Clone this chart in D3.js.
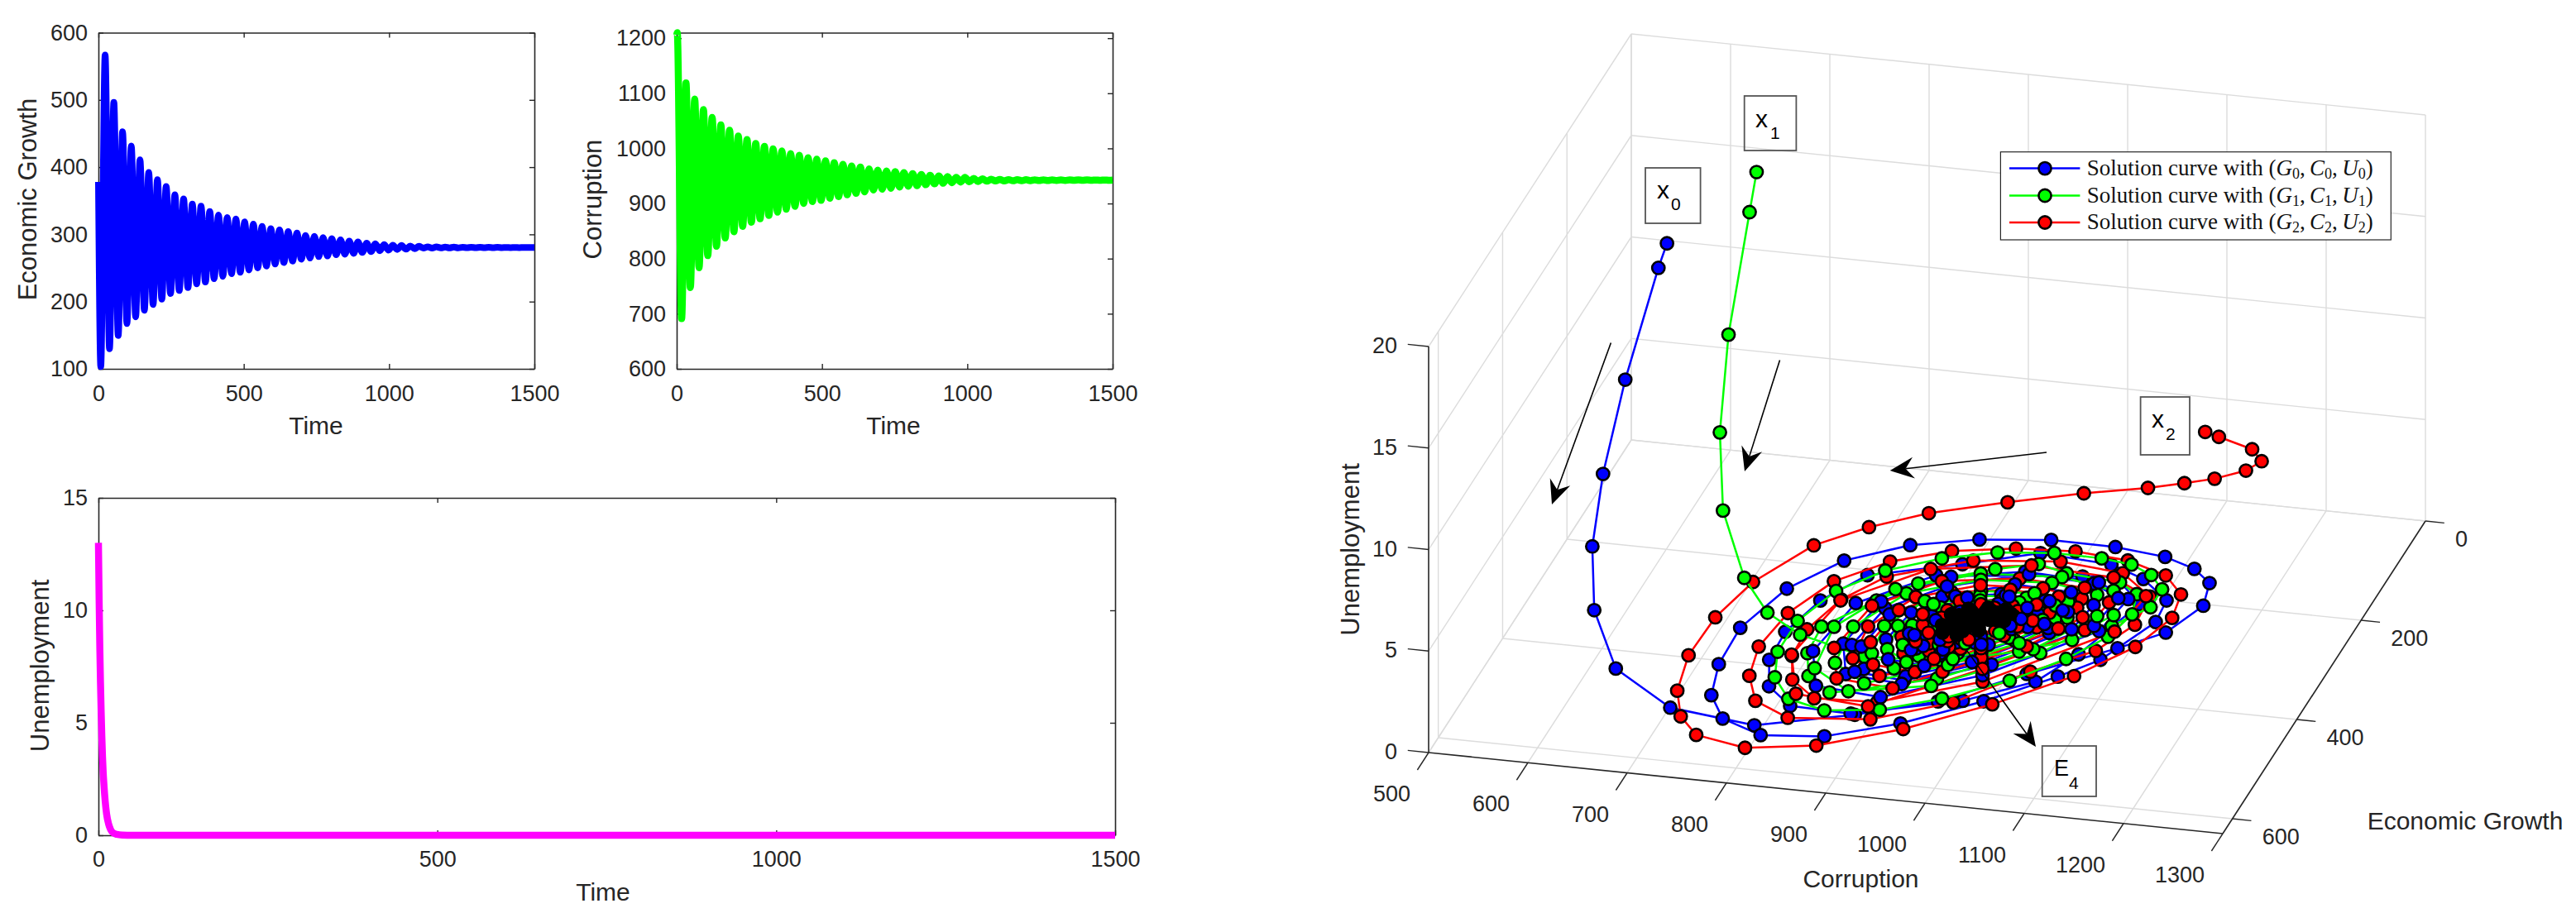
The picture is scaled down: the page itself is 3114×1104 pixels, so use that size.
<!DOCTYPE html>
<html><head><meta charset="utf-8">
<script src="https://cdn.jsdelivr.net/npm/d3@7"></script>
<style>
html,body{margin:0;padding:0;background:#fff}
svg{display:block}
text{font-family:"Liberation Sans",Arial,sans-serif;fill:#262626}
</style></head><body>
<svg id="c" width="3114" height="1104"></svg>
<script>
// ---------- time series ----------
const growthPeakT=[23,53,83,113,143,173,203,233,263,293,323,353,383,413,443,473,503,533,563,593,623,653,683,713,743,773,803,833,863,893,923,953,983,1013,1043,1073,1103,1133,1163,1193,1223,1253,1283,1313,1343,1373,1403,1433,1463,1493];
const growthPeakV=[566.8,496.5,452.6,431.5,410.9,392,381.4,371.3,359,352.9,345,341.9,334,328.7,325.2,323,318.6,315.1,312,308.5,306.7,304.1,301.9,298.4,297.1,295.3,293.6,291.8,290,288.7,287,286.1,284.8,283.9,283.5,282.6,282.2,281.3,281.3,281,281,280.9,280.8,280.8,280.7,280.7,280.6,280.6,280.6,280.5];
const growthTroughT=[8,38,68,98,128,158,188,218,248,278,308,338,368,398,428,458,488,518,548,578,608,638,668,698,728,758,788,818,848,878,908,938,968,998,1028,1058,1088,1118,1148,1178,1208,1238,1268,1298,1328,1358,1388,1418,1448,1478];
const growthTroughV=[103.5,129.9,149.6,167.2,177.3,187,195.7,203.6,212,216.4,220.8,226.5,229.1,234,237.5,241.4,243.6,247.1,250.2,252.9,255.9,258.1,260.3,263,264.7,266.9,267.8,269.6,270.4,271.7,273,274.4,275.7,276.6,277.5,277.9,278.8,279.7,279.7,279.9,280,280,280.1,280.1,280.2,280.2,280.3,280.3,280.3,280.4];
const growthStart=[0,378], growthEnd=[1500,280.5];

const corruptPeakT=[2,32,62,92,122,152,182,212,242,272,302,332,362,392,422,452,482,512,542,572,602,632,662,692,722,752,782,812,842,872,902,932,962,992,1022,1052,1082,1112,1142,1172,1202,1232,1262,1292,1322,1352,1382,1412,1442,1472];
const corruptPeakV=[1210,1118.9,1089.4,1070.6,1056.2,1042.7,1033.1,1022.4,1015.9,1009,1003.6,999.3,995.6,990.7,987.5,983.2,980.5,977.3,974.1,970.9,968.2,966,962.8,960.7,959.1,958,955.9,954.3,952.7,951,950,948.9,947.3,947.3,945.7,944.6,944.1,943.5,943.3,943.2,943.1,943,943,942.9,942.9,942.8,942.8,942.8,942.7,942.7];
const corruptTroughT=[17,47,77,107,137,167,197,227,257,287,317,347,377,407,437,467,497,527,557,587,617,647,677,707,737,767,797,827,857,887,917,947,977,1007,1037,1067,1097,1127,1157,1187,1217,1247,1277,1307,1337,1367,1397,1427,1457,1487];
const corruptTroughV=[691.1,747.4,783.4,805.4,822.5,837.5,848.8,858.5,866,872.4,878.3,884.2,889.6,894.9,900.3,903.5,905.6,909.4,912.6,915.8,918.5,921.2,924.4,926,927.6,929.8,931.4,932.5,934.1,935.7,936.8,937.8,938.9,939.4,940,940.5,941,941.1,941.3,941.4,941.5,941.6,941.7,941.8,941.9,942,942,942.1,942.1,942.2];
const corruptStart=[0,1206], corruptEnd=[1500,942.5];

const unempT=[0,1,2,3,4,5,6,7,8,10,12,15,18,22,27,35,50,1500];
const unempV=[13,10.5,8.4,6.8,5.5,4.4,3.5,2.8,2.3,1.5,0.95,0.5,0.25,0.1,0.04,0.01,0,0];

// ---------- phase-space trajectories ----------
const blueC=[662,654,619,606,603,614,649,712,796,882,950,1017,1087,1123,1142,1134,1111,1076,1023,958,890,828,775,738,718,720,732,757,803,864,928,993,1048,1078,1107,1104,1069,1030,956,889,806,777,763,765,781,813,875,973,1030,1054,1081,1041,1010,
871,812,801,825,893,976,1059,1067,1029,953,
886,835,825,846,905,978,1051,1057,1025,958,
888,843,834,853,905,968,1032,1038,1009,951,
890,851,844,860,904,958,1013,1018,994,944,
902,870,863,877,915,961,1009,1012,992,949,
914,887,881,893,925,963,1003,1006,989,953,
915,892,887,897,923,956,989,991,977,947,
916,898,895,902,923,949,975,978,966,942,
925,910,907,914,931,951,972,974,965,946];
const blueG=[389,391,386,415,439,467,508,533,531,484,435,366,300,261,203,159,135,118,109,108,121,145,187,251,334,407,467,509,533,523,484,426,365,325,243,200,164,143,135,171,210,267,333,389,439,472,475,429,379,319,212,165,171,
197,265,364,429,438,377,271,205,179,173,
197,257,344,401,409,355,262,205,182,177,
216,269,345,395,402,355,273,223,203,199,
236,280,346,388,394,354,284,241,224,220,
233,272,328,365,370,335,275,239,224,221,
233,265,312,343,347,318,268,238,225,223,
248,275,314,339,343,319,277,251,241,239,
261,282,313,333,336,317,284,263,255,253,
260,277,302,318,320,305,278,262,256,254];
const blueU=[20,18.8,13,9,6,3.6,1.9,0.9,0.4,0.2];

const greenC=[703,706,689,691,704.5,736,758,790,858,931,996,1039,1068,1093,1093,1074,1049,1017,969,915,866,820,786,768,768,781,807,848,900,952,1005,1045,1071,1080,1072,1049,993,961,923,859,830,794,797,812,842,
934,1017,1063,1048,991,912,841,806,813,859,
935,1008,1048,1035,985,916,854,824,829,869,
937,991,1021,1012,975,923,876,853,858,888,
938,985,1010,1002,970,925,886,866,870,896,
939,978,999,992,966,928,895,879,882,904,
940,966,980,976,958,933,911,900,902,916];
const greenG=[237,268,281,314,346,377,373,370,380,365,325,293,259,216,180,155,139,133,132,142,164,198,246,310,372,421,459,474,462,429,382,330,280,233,194,175,168,156,174,216,256,316,369,412,439,
407,324,238,192,176,185,231,314,396,433,
392,318,243,203,189,197,237,310,382,415,
364,309,252,222,212,218,248,303,357,381,
352,305,257,231,222,227,252,300,346,367,
340,301,261,239,232,236,257,296,335,353,
320,294,267,253,248,251,265,291,317,328];
const greenU=[20,18.8,13,9,6,3.6,1.9,0.9,0.4,0.2];

const redC=[1199,1205,1198,1182,1148,1103.5,1064,1025,964,895,826,778,737,702,688,686,697,716,742,796,862,934,1003,1063,1103,1120,1114,1088,1043,988,930,871,819,778,754,747,756,777,818,897,965,1019,1068,1089,1086,1046,980,897,825,796,782,784,799,831,893,
980,1074,1082,1040,955,862,796,783,811,887,
972,1045,1051,1019,952,880,829,819,840,899,
936,1000,1035,1023,980,919,865,838,843,879,
964,1019,1024,1000,950,896,857,850,866,910,
958,998,1001,984,948,909,882,876,888,920,
939,972,990,984,962,931,903,889,892,910,
953,979,982,970,946,920,902,899,906,927,
941,961,973,969,955,935,917,908,910,922,
949,966,967,960,945,929,917,915,920,933];
const redG=[373,349,224,145,89,49,21,14,25,49,81,119,164,245,319,396,465,513,545,560,542,494,430,361,294,232,186,153,132,125,131,148,180,228,297,366,423,469,495,482,434,361,309,252,196,157,147,162,209,261,324,377,422,453,448,
389,269,196,167,160,186,263,375,448,458,
365,272,215,192,187,207,267,354,411,419,
378,314,248,213,201,207,242,307,370,398,
344,274,231,214,210,226,270,336,378,384,
326,276,246,233,231,241,273,320,351,355,
331,298,264,246,240,243,261,294,326,341,
311,278,257,249,247,255,276,307,327,330,
312,291,270,259,255,257,268,289,310,319,
300,279,266,261,260,264,278,297,310,312];
const redU=[13,12.2,8.5,5.9,3.9,2.3,1.2,0.6,0.3,0.1];

// overlapping marker edges turn the centre of the spiral solid black
const coreC=[965,957,940,922,909,907,912,927,945,963,957,952,940,927,918,916,920,930,943,956,949,946,939,931,926,925,927,933,941,949,938];
const coreG=[255,250,248,254,268,290,304,306,293,270,260,256,255,259,269,285,295,297,287,270,265,262,262,264,270,280,286,287,281,271,272];

const timeTicks=[0,500,1000,1500];
const growthTicks=[100,200,300,400,500,600];
const corruptTicks=[600,700,800,900,1000,1100,1200];
const unempTicks=[0,5,10,15];
const cTicks3=[500,600,700,800,900,1000,1100,1200,1300];
const gTicks3=[0,200,400,600];
const uTicks3=[0,5,10,15,20];
const legendRows=[{s:"0",col:"#0000ff"},{s:"1",col:"#00ff00"},{s:"2",col:"#ff0000"}];

// ---------- helpers ----------
const svg=d3.select("#c");
const INK="#262626";
const fmt=d3.format("d");
const merge=(pt,pv,tt,tv,s,e)=>[s,...pt.map((t,i)=>[t,pv[i]]),...tt.map((t,i)=>[t,tv[i]]),e].sort((a,b)=>a[0]-b[0]);

function panel(o){
  const x=d3.scaleLinear().domain([0,1500]).range([o.l,o.r]);
  const y=d3.scaleLinear().domain(o.dom).range([o.b,o.t]);
  const g=svg.append("g");
  const style=s=>{s.selectAll("path.domain").attr("stroke",INK).attr("stroke-width",1.6);
    s.selectAll(".tick line").attr("stroke",INK).attr("stroke-width",1.4);
    s.selectAll("text").attr("font-size",27).attr("font-family",null).attr("fill",INK);};
  g.append("g").attr("transform",`translate(0,${o.b})`).call(d3.axisBottom(x).tickValues(timeTicks).tickFormat(fmt).tickSize(-6).tickSizeOuter(0).tickPadding(o.pad)).call(style);
  g.append("g").attr("transform",`translate(0,${o.t})`).call(d3.axisTop(x).tickValues(timeTicks).tickSize(-6).tickSizeOuter(0).tickFormat("")).call(style);
  g.append("g").attr("transform",`translate(${o.l},0)`).call(d3.axisLeft(y).tickValues(o.ticks).tickFormat(fmt).tickSize(-6).tickSizeOuter(0).tickPadding(13)).call(style);
  g.append("g").attr("transform",`translate(${o.r},0)`).call(d3.axisRight(y).tickValues(o.ticks).tickSize(-6).tickSizeOuter(0).tickFormat("")).call(style);
  g.selectAll(".tick text").each(function(){d3.select(this).attr("font-size",27)});
  g.append("path").datum(o.data).attr("fill","none").attr("stroke",o.col).attr("stroke-width",o.w)
    .attr("stroke-linejoin","round").attr("stroke-linecap","butt")
    .attr("d",d3.line().x(d=>x(d[0])).y(d=>y(d[1])).curve(o.curve));
  g.append("text").attr("x",o.xl[0]).attr("y",o.xl[1]).attr("text-anchor","middle").attr("dominant-baseline","central").attr("font-size",30).text("Time");
  g.append("text").attr("transform",`translate(${o.yl[0]},${o.yl[1]}) rotate(-90)`).attr("text-anchor","middle").attr("dominant-baseline","central").attr("font-size",31).text(o.ylabel);
}
panel({l:119,r:646,t:39.5,b:446,dom:[100,600],ticks:growthTicks,pad:20,col:"#0000ff",w:8,curve:d3.curveMonotoneX,
  data:merge(growthPeakT,growthPeakV,growthTroughT,growthTroughV,growthStart,growthEnd),xl:[382,514],yl:[33,241],ylabel:"Economic Growth"});
panel({l:818,r:1345,t:39.5,b:446,dom:[600,1210],ticks:corruptTicks,pad:20,col:"#00ff00",w:8.5,curve:d3.curveMonotoneX,
  data:merge(corruptPeakT,corruptPeakV,corruptTroughT,corruptTroughV,corruptStart,corruptEnd),xl:[1080,514],yl:[716,241],ylabel:"Corruption"});
panel({l:119,r:1348,t:602,b:1010,dom:[0,15],ticks:unempTicks,pad:19,col:"#ff00ff",w:8.5,curve:d3.curveMonotoneX,
  data:unempT.map((t,i)=>[t,unempV[i]]),xl:[729,1078],yl:[48,805],ylabel:"Unemployment"});

// ---------- 3-D axes: orthographic view, each data axis has one scale per screen direction ----------
const cX=d3.scaleLinear().domain([500,1300]).range([0,960]);
const cY=d3.scaleLinear().domain([500,1300]).range([0,98]);
const gX=d3.scaleLinear().domain([630,0]).range([0,245]);
const gY=d3.scaleLinear().domain([630,0]).range([0,-378]);
const uY=d3.scaleLinear().domain([0,20]).range([0,-491]);
const ORG=[1727,910];
const P=(c,g,u=0)=>[ORG[0]+cX(c)+gX(g),ORG[1]+cY(c)+gY(g)+uY(u)];
const seg=(sel,a,b,col,w)=>sel.append("line").attr("x1",a[0]).attr("y1",a[1]).attr("x2",b[0]).attr("y2",b[1]).attr("stroke",col).attr("stroke-width",w);
const box3=svg.append("g");
const GRID="#dcdcdc";
const G0=630,C0=500,C1=1300,U1=20;
cTicks3.forEach(c=>{seg(box3,P(c,G0),P(c,0),GRID,1.4);seg(box3,P(c,0),P(c,0,U1),GRID,1.4)});
gTicks3.forEach(g=>{seg(box3,P(C0,g),P(C1,g),GRID,1.4);seg(box3,P(C0,g),P(C0,g,U1),GRID,1.4)});
uTicks3.forEach(u=>{seg(box3,P(C0,0,u),P(C1,0,u),GRID,1.4);seg(box3,P(C0,G0,u),P(C0,0,u),GRID,1.4)});
seg(box3,P(C0,G0),P(C1,G0),INK,1.6);
seg(box3,P(C1,G0),P(C1,0),INK,1.6);
seg(box3,P(C0,G0),P(C0,G0,U1),INK,1.6);
const lab=(sel,x,y,t,a,fs=27)=>sel.append("text").attr("x",x).attr("y",y).attr("text-anchor",a).attr("dominant-baseline","central").attr("font-size",fs).text(t);
cTicks3.forEach(c=>{const p=P(c,G0);seg(box3,p,P(c,G0+35),INK,1.4);lab(box3,p[0]-22,p[1]+50,fmt(c),"end")});
gTicks3.forEach(g=>{const p=P(C1,g);seg(box3,p,P(C1+19,g),INK,1.4);lab(box3,p[0]+36,p[1]+22,fmt(g),"start")});
uTicks3.forEach(u=>{const p=P(C0,G0,u);seg(box3,p,P(C0-21,G0,u),INK,1.4);lab(box3,p[0]-38,p[1]-1,fmt(u),"end")});
lab(box3,2249.5,1062,"Corruption","middle",30);
lab(box3,2980,992,"Economic Growth","middle",30);
svg.append("text").attr("transform","translate(1632,664.5) rotate(-90)").attr("text-anchor","middle").attr("dominant-baseline","central").attr("font-size",31).text("Unemployment");

// ---------- trajectories ----------
const LW=2.5,MR=7.6,MW=2.6;
const innerMarks=[];
function traj(C,G,U,col,outer,rank){
  const pts=C.map((c,i)=>P(c,G[i],U&&i<U.length?U[i]:0));
  const g=svg.append("g");
  g.append("path").datum(pts).attr("fill","none").attr("stroke",col).attr("stroke-width",LW).attr("stroke-linejoin","round").attr("d",d3.line());
  g.selectAll("circle").data(pts.slice(0,outer)).join("circle").attr("cx",d=>d[0]).attr("cy",d=>d[1]).attr("r",MR).attr("fill",col).attr("stroke","#000").attr("stroke-width",MW);
  pts.slice(outer).forEach((p,i)=>innerMarks.push({p,col,key:(i+rank)%3,i}));
}
traj(blueC,blueG,blueU,"#0000ff",53,0);
traj(redC,redG,redU,"#ff0000",55,1);
traj(greenC,greenG,greenU,"#00ff00",45,2);
// the dense rings interleave: no single series stays on top
innerMarks.sort((a,b)=>a.key-b.key||a.i-b.i);
svg.append("g").selectAll("circle").data(innerMarks).join("circle").attr("cx",d=>d.p[0]).attr("cy",d=>d.p[1]).attr("r",MR).attr("fill",d=>d.col).attr("stroke","#000").attr("stroke-width",MW);
svg.append("g").selectAll("circle").data(coreC.map((c,i)=>P(c,coreG[i]))).join("circle").attr("cx",d=>d[0]).attr("cy",d=>d[1]).attr("r",MR).attr("fill","#000").attr("stroke","#000").attr("stroke-width",MW);

// ---------- annotations ----------
function arrow(a,b){
  const ang=Math.atan2(b[1]-a[1],b[0]-a[0]);
  const L=29,W=13,N=19;
  const pt=(d,s)=>[b[0]-d*Math.cos(ang)-s*Math.sin(ang),b[1]-d*Math.sin(ang)+s*Math.cos(ang)];
  seg(svg,a,pt(N,0),"#000",1.6);
  svg.append("path").attr("d",d3.line()([b,pt(L,W),pt(N,0),pt(L,-W)])+"Z").attr("fill","#000");
}
arrow([1947.4,414.5],[1876,610]);
arrow([2151.5,435.5],[2109,570]);
arrow([2474,547],[2284.7,569]);
arrow([2378,787],[2461,903]);
function tag(x0,x1,y0,y1,t,s,tx,ty,sx,sy){
  svg.append("rect").attr("x",x0).attr("y",y0).attr("width",x1-x0).attr("height",y1-y0).attr("fill","none").attr("stroke","#555").attr("stroke-width",1.8);
  svg.append("text").attr("x",tx).attr("y",ty).attr("font-size",t==="E"?27:30).style("fill","#000").text(t);
  svg.append("text").attr("x",sx).attr("y",sy).attr("font-size",21).style("fill","#000").text(s);
}
tag(1989,2055.6,203,270,"x","0",2003,240,2020,254);
tag(2108.7,2171.4,116,182,"x","1",2122,154,2140,168);
tag(2587.6,2647,480,550,"x","2",2601,517,2618,532);
tag(2468.7,2534,902,963,"E","4",2483,938,2501,954);

// ---------- legend ----------
const lg=svg.append("g");
lg.append("rect").attr("x",2418.4).attr("y",183.7).attr("width",471.9).attr("height",106.3).attr("fill","#fff").attr("stroke",INK).attr("stroke-width",1.2);
const rowY=[203.6,236.5,269];
legendRows.forEach((r,i)=>{
  const y=rowY[i];
  seg(lg,[2429,y],[2514.4,y],r.col,LW);
  lg.append("circle").attr("cx",2472).attr("cy",y).attr("r",MR).attr("fill",r.col).attr("stroke","#000").attr("stroke-width",MW);
  const t=lg.append("text").attr("x",2522.7).attr("y",y+8).attr("font-size",27).style("font-family",'"Liberation Serif",serif').style("fill","#111");
  t.append("tspan").text("Solution curve with (");
  ["G","C","U"].forEach((v,k)=>{
    t.append("tspan").attr("font-style","italic").text(v);
    t.append("tspan").attr("font-size",18).attr("dy",4).text(r.s);
    t.append("tspan").attr("dy",-4).text(k<2?",\u2009":")");
  });
});
</script>
</body></html>
